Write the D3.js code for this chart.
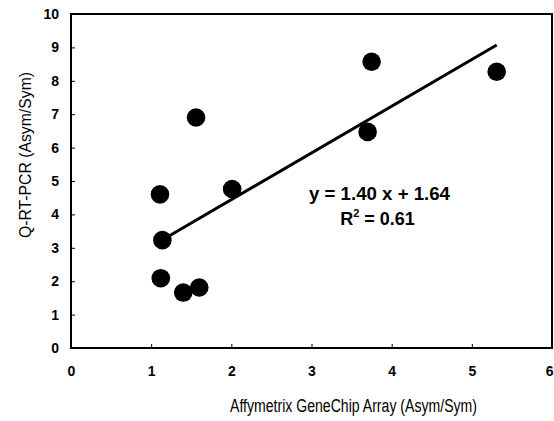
<!DOCTYPE html>
<html>
<head>
<meta charset="utf-8">
<script src="https://cdnjs.cloudflare.com/ajax/libs/d3/7.8.5/d3.min.js"></script>
<style>
  body { margin: 0; background: #fff; }
  text { font-family: Arial, "Liberation Sans", sans-serif; fill: #000; }
</style>
</head>
<body>
<svg id="chart" width="554" height="421"></svg>
<script>
// data
const affyValues = [1.11, 1.14, 1.12, 1.40, 1.60, 1.56, 2.01, 3.70, 3.75, 5.31];
const pcrValues  = [4.60, 3.23, 2.09, 1.66, 1.81, 6.90, 4.76, 6.47, 8.57, 8.27];
const xTicks = [0, 1, 2, 3, 4, 5, 6];
const yTicks = [0, 1, 2, 3, 4, 5, 6, 7, 8, 9, 10];
const slope = 1.40;
const intercept = 1.64;
const rSquared = 0.61;

const margin = { top: 14, right: 2, bottom: 73, left: 71 };
const width = 554 - margin.left - margin.right;
const height = 421 - margin.top - margin.bottom;

const svg = d3.select('#chart');
const g = svg.append('g')
    .attr('transform', `translate(${margin.left}, ${margin.top})`);

const x = d3.scaleLinear().domain([0, 6]).range([0, width]);
const y = d3.scaleLinear().domain([0, 10]).range([height, 0]);

// axes, inward ticks
const xAxis = d3.axisBottom(x).tickValues(xTicks).tickFormat(d3.format('d'))
    .tickSizeInner(-4).tickSizeOuter(0).tickPadding(18);
const yAxis = d3.axisLeft(y).tickValues(yTicks).tickFormat(d3.format('d'))
    .tickSizeInner(-4).tickSizeOuter(0).tickPadding(12);

const gx = g.append('g')
    .attr('transform', `translate(0, ${height})`)
    .call(xAxis);
const gy = g.append('g').call(yAxis);

[gx, gy].forEach(ax => {
    ax.select('.domain').remove();
    ax.selectAll('.tick line').attr('stroke', '#000').attr('stroke-width', 1);
    ax.selectAll('.tick text')
        .style('font-size', '14px')
        .style('font-weight', 'bold')
        .style('font-family', 'Arial, "Liberation Sans", sans-serif');
});
// last x label sits against the window edge
gx.selectAll('.tick text').filter(d => d === 6).attr('text-anchor', 'end').attr('dx', 1);

// frame
g.append('rect')
    .attr('x', 0).attr('y', 0)
    .attr('width', width).attr('height', height)
    .attr('fill', 'none')
    .attr('stroke', '#000')
    .attr('stroke-width', 2);

// regression line
const xExt = d3.extent(affyValues);
g.append('line')
    .attr('x1', x(xExt[0])).attr('y1', y(slope * xExt[0] + intercept))
    .attr('x2', x(xExt[1])).attr('y2', y(slope * xExt[1] + intercept))
    .attr('stroke', '#000')
    .attr('stroke-width', 3);

// points
const points = affyValues.map((v, i) => ({ a: v, p: pcrValues[i] }));
g.selectAll('circle')
    .data(points)
    .enter()
    .append('circle')
    .attr('cx', d => x(d.a))
    .attr('cy', d => y(d.p))
    .attr('r', 9.3)
    .attr('fill', '#000');

// equation
svg.append('text')
    .attr('x', 379.5)
    .attr('y', 200)
    .attr('text-anchor', 'middle')
    .attr('textLength', 141)
    .attr('lengthAdjust', 'spacingAndGlyphs')
    .style('font-size', '18px')
    .style('font-weight', 'bold')
    .text(`y = ${slope.toFixed(2)} x + ${intercept.toFixed(2)}`);

const r2 = svg.append('text')
    .attr('x', 377.5)
    .attr('y', 225)
    .attr('text-anchor', 'middle')
    .style('font-size', '18px')
    .style('font-weight', 'bold');
r2.append('tspan').text('R');
r2.append('tspan').attr('dy', -8).style('font-size', '11px').text('2');
r2.append('tspan').attr('dy', 8).text(` = ${rSquared.toFixed(2)}`);

// axis titles
svg.append('text')
    .attr('x', 353.5)
    .attr('y', 412)
    .attr('text-anchor', 'middle')
    .attr('textLength', 247)
    .attr('lengthAdjust', 'spacingAndGlyphs')
    .style('font-size', '18px')
    .text('Affymetrix GeneChip Array (Asym/Sym)');

svg.append('text')
    .attr('transform', 'translate(31, 155) rotate(-90)')
    .attr('text-anchor', 'middle')
    .attr('textLength', 166)
    .attr('lengthAdjust', 'spacingAndGlyphs')
    .style('font-size', '17px')
    .text('Q-RT-PCR (Asym/Sym)');
</script>
</body>
</html>
